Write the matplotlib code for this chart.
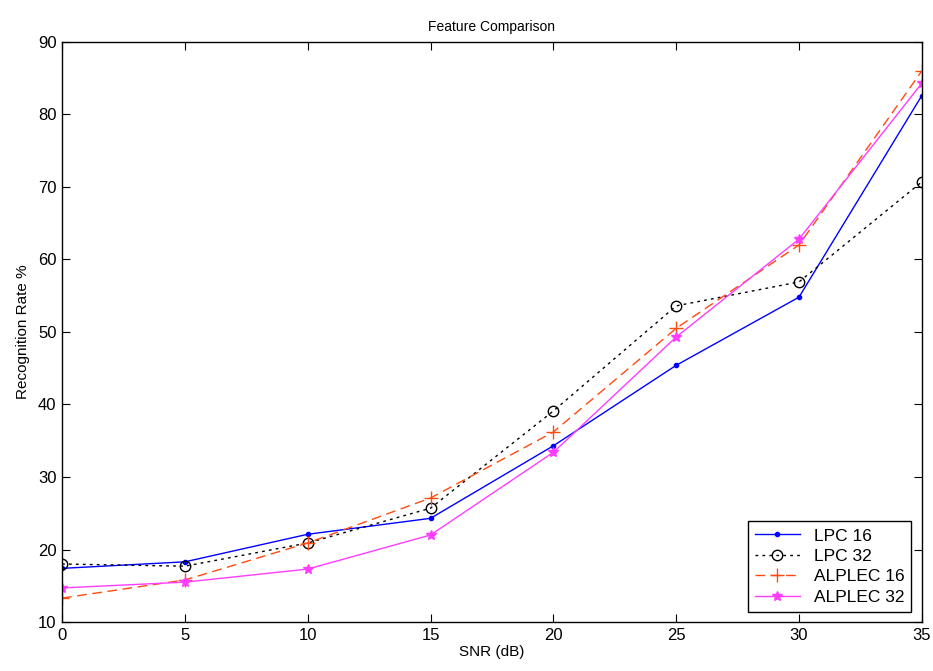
import matplotlib
matplotlib.use("Agg")
import matplotlib.pyplot as plt

plt.rcParams['font.family'] = ['Liberation Sans', 'DejaVu Sans']

snr = [0, 5, 10, 15, 20, 25, 30, 35]
lpc16 = [17.4, 18.3, 22.1, 24.3, 34.3, 45.4, 54.8, 82.6]
lpc32 = [18.0, 17.7, 20.9, 25.7, 39.1, 53.6, 56.9, 70.7]
alplec16 = [13.3, 15.8, 20.9, 27.1, 36.2, 50.5, 62.0, 86.0]
alplec32 = [14.7, 15.5, 17.3, 22.0, 33.4, 49.3, 62.8, 84.3]

fig = plt.figure(figsize=(9.33, 6.71), dpi=100)
ax = fig.add_axes([0.0665, 0.073, 0.9215, 0.8645])

ax.plot(snr, lpc16, color='#0000ff', marker='.', markersize=6, lw=1,
        label='LPC 16')
ax.plot(snr, lpc32, color='black', marker='o', markersize=7.5, mfc='none',
        lw=1, linestyle=(0, (2, 3)), label='LPC 32')
ax.plot(snr, alplec16, color='#ff4a10', marker='+', markersize=10, lw=1,
        linestyle=(0, (7, 4)), label='ALPLEC 16')
ax.plot(snr, alplec32, color='#ff3cff', marker='*', markersize=7, lw=1,
        label='ALPLEC 32')

ax.set_xlim(0, 35)
ax.set_ylim(10, 90)
ax.set_xticks(range(0, 36, 5))
ax.set_yticks(range(10, 91, 10))
ax.tick_params(direction='in', top=True, right=True, length=6,
               labelsize=12, pad=4)
for s in ax.spines.values():
    s.set_linewidth(1)

ax.set_title('Feature Comparison', fontsize=10, pad=8)
ax.set_xlabel('SNR (dB)', fontsize=11, labelpad=2)
ax.set_ylabel('Recognition Rate %', fontsize=11, labelpad=6)

leg = ax.legend(loc='lower right', fontsize=12.5, fancybox=False,
                framealpha=1, edgecolor='black', borderaxespad=0.6,
                handlelength=2.6, labelspacing=0.3)
leg.get_frame().set_linewidth(1)

fig.savefig('out.png', dpi=100)
